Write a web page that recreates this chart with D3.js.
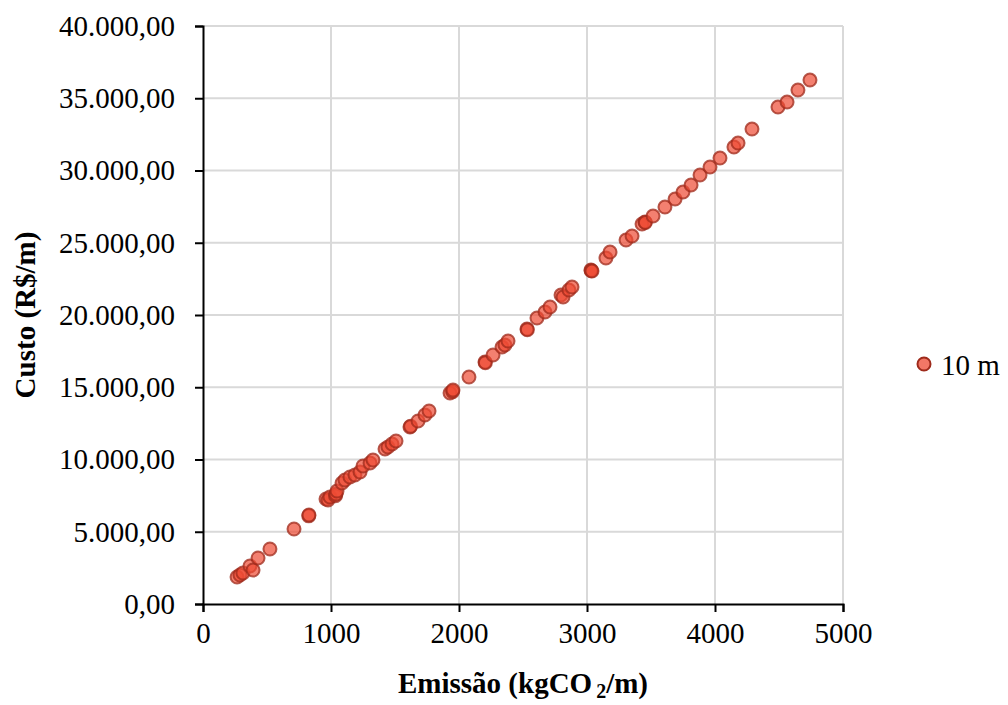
<!DOCTYPE html>
<html>
<head>
<meta charset="utf-8">
<script src="https://cdn.jsdelivr.net/npm/d3@7"></script>
<style>
  body { margin: 0; background: #fff; }
  svg text { font-family: "Liberation Serif", "Times New Roman", serif; fill: #000; }
</style>
</head>
<body>
<div id="chart"></div>
<script>
// emission (kgCO2/m) and cost (R$/m) for the 10 m series
var emissao = [266, 289, 312, 367, 391, 430, 523, 711, 826, 828, 961, 977, 992, 1035, 1039, 1047,
  1086, 1109, 1148, 1187, 1227, 1250, 1305, 1328, 1422, 1445, 1477, 1508, 1617, 1622, 1680,
  1734, 1766, 1930, 1950, 1953, 2078, 2203, 2206, 2266, 2336, 2359, 2383, 2531, 2534, 2609,
  2672, 2711, 2797, 2813, 2859, 2883, 3031, 3033, 3039, 3148, 3180, 3305, 3352, 3430, 3453,
  3456, 3516, 3609, 3688, 3750, 3813, 3883, 3961, 4039, 4148, 4180, 4289, 4492, 4563, 4648, 4742];
var custo = [1869, 2007, 2145, 2630, 2353, 3183, 3806, 5190, 6100, 6159, 7266, 7197, 7404, 7500, 7612, 7820,
  8373, 8581, 8788, 8927, 9134, 9550, 9757, 9965, 10726, 10864, 11072, 11280, 12248, 12300, 12664,
  13079, 13356, 14601, 14700, 14809, 15708, 16746, 16700, 17231, 17784, 17923, 18200, 19030, 18980, 19791,
  20206, 20552, 21383, 21244, 21729, 21936, 23113, 23060, 23044, 23943, 24358, 25189, 25466, 26296, 26434,
  26400, 26850, 27472, 28026, 28510, 28995, 29687, 30240, 30863, 31624, 31901, 32870, 34392, 34738, 35569, 36261];
var xTicks = [0, 1000, 2000, 3000, 4000, 5000];
var yTicks = [0, 5000, 10000, 15000, 20000, 25000, 30000, 35000, 40000];
var serieNome = "10 m";

var W = 1008, H = 705;
var margin = { left: 203, right: 165, top: 26, bottom: 101 };
var FS = 29;

var svg = d3.select("#chart").append("svg")
    .attr("width", W)
    .attr("height", H);

var x = d3.scaleLinear().domain([0, 5000]).range([margin.left, W - margin.right]);
var y = d3.scaleLinear().domain([0, 40000]).range([H - margin.bottom, margin.top]);

// brazilian number format: 40.000,00
var ptBR = d3.formatLocale({ decimal: ",", thousands: ".", grouping: [3], currency: ["R$", ""] });
var fmtY = ptBR.format(",.2f");

// gridlines
svg.append("g").selectAll("line")
    .data(xTicks.slice(1))
    .enter().append("line")
    .attr("x1", function(d) { return x(d); })
    .attr("x2", function(d) { return x(d); })
    .attr("y1", y(0))
    .attr("y2", y(40000))
    .attr("stroke", "#d9d9d9")
    .attr("stroke-width", 2);

svg.append("g").selectAll("line")
    .data(yTicks.slice(1))
    .enter().append("line")
    .attr("x1", x(0))
    .attr("x2", x(5000))
    .attr("y1", function(d) { return y(d); })
    .attr("y2", function(d) { return y(d); })
    .attr("stroke", "#d9d9d9")
    .attr("stroke-width", 2);

// axes
var xAxis = d3.axisBottom(x).tickValues(xTicks).tickSize(8).tickPadding(10).tickFormat(d3.format("d"));
var yAxis = d3.axisLeft(y).tickValues(yTicks).tickSize(8).tickPadding(20).tickFormat(fmtY);

var gx = svg.append("g").attr("transform", "translate(0," + y(0) + ")").call(xAxis);
var gy = svg.append("g").attr("transform", "translate(" + x(0) + ",0)").call(yAxis);

[gx, gy].forEach(function(g) {
    g.select(".domain").attr("stroke", "#000").attr("stroke-width", 2);
    g.selectAll(".tick line").attr("stroke", "#000").attr("stroke-width", 2);
    g.selectAll(".tick text").attr("font-size", FS).attr("font-family", "Liberation Serif");
});

// points
var pts = emissao.map(function(e, i) { return { x: e, y: custo[i] }; });
svg.append("g").selectAll("circle")
    .data(pts)
    .enter().append("circle")
    .attr("cx", function(d) { return x(d.x); })
    .attr("cy", function(d) { return y(d.y); })
    .attr("r", 6.5)
    .attr("fill", "#ee4a33")
    .attr("fill-opacity", 0.7)
    .attr("stroke", "#9e2a1b")
    .attr("stroke-opacity", 0.75)
    .attr("stroke-width", 2);

// axis titles
svg.append("text")
    .attr("x", x(2500))
    .attr("y", 693)
    .attr("text-anchor", "middle")
    .attr("font-size", FS)
    .attr("font-weight", "bold")
    .html('Emissão (kgCO<tspan font-size="20" dx="4" dy="5">2</tspan><tspan dy="-5">/m)</tspan>');

svg.append("text")
    .attr("transform", "translate(35," + y(20000) + ") rotate(-90)")
    .attr("text-anchor", "middle")
    .attr("font-size", FS)
    .attr("font-weight", "bold")
    .text("Custo (R$/m)");

// legend
var lg = svg.append("g").attr("transform", "translate(924,364)");
lg.append("circle")
    .attr("r", 6.5)
    .attr("fill", "#ee4a33")
    .attr("fill-opacity", 0.75)
    .attr("stroke", "#9e2a1b")
    .attr("stroke-width", 2);
lg.append("text")
    .attr("x", 17)
    .attr("y", 11)
    .attr("font-size", FS)
    .text(serieNome);
</script>
</body>
</html>
